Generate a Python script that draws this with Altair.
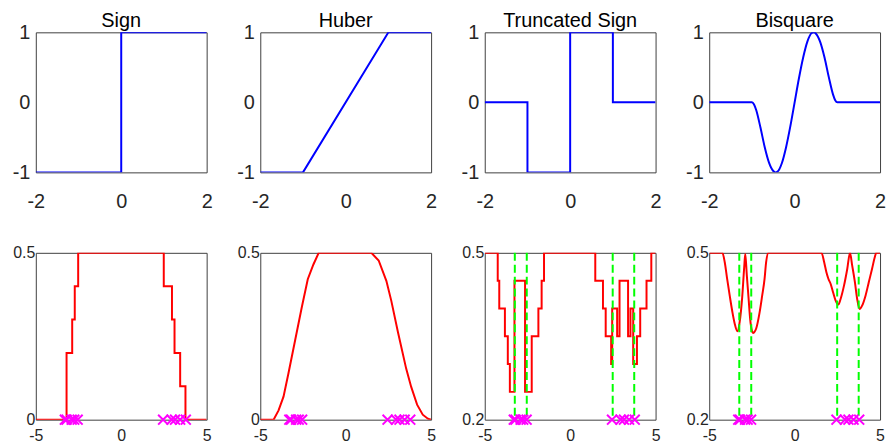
import altair as alt
import pandas as pd

# ---------------- top row: psi functions ----------------
sign_x = [-2, 0, 0, 2]
sign_y = [-1, -1, 1, 1]
huber_x = [-2, -1, 1, 2]
huber_y = [-1, -1, 1, 1]
tsign_x = [-2, -1, -1, 0, 0, 1, 1, 2]
tsign_y = [0, 0, -1, -1, 1, 1, 0, 0]
bisq_x = [-2, -1, -0.95, -0.9, -0.8, -0.7, -0.6, -0.5, -0.45, -0.4, -0.3, -0.2, -0.1,
          0, 0.1, 0.2, 0.3, 0.4, 0.45, 0.5, 0.6, 0.7, 0.8, 0.9, 0.95, 1, 2]
bisq_y = [0, 0, -0.03, -0.11, -0.36, -0.64, -0.86, -0.98, -1.0, -0.99, -0.87, -0.64, -0.34,
          0, 0.34, 0.64, 0.87, 0.99, 1.0, 0.98, 0.86, 0.64, 0.36, 0.11, 0.03, 0, 0]

# ---------------- bottom row: objective curves ----------------
sign_obj_x = [-5, -3.2, -2.87, -2.72, -2.52, 2.49, 2.97, 3.12, 3.45, 3.76, 5]
sign_obj_y = [0, 0.2, 0.3, 0.4, 0.5, 0.4, 0.3, 0.2, 0.1, 0, 0]

huber_obj_x = [-5, -4.22, -3.93, -3.64, -3.35, -2.96, -2.57, -2.22, -1.89, -1.58,
               1.50, 1.93, 2.38, 2.67, 3.06, 3.54, 3.83, 4.18, 4.51, 4.81, 5]
huber_obj_y = [0, 0, 0.028, 0.069, 0.139, 0.238, 0.337, 0.421, 0.465, 0.5,
               0.5, 0.477, 0.416, 0.356, 0.262, 0.153, 0.099, 0.045, 0.015, 0.003, 0]

tsign_obj_x = [-5, -4.24, -4.15, -3.82, -3.65, -3.53, -3.26, -2.64, -2.25, -1.86, -1.67, -1.53,
               1.47, 1.92, 2.08, 2.40, 2.46, 2.75, 2.89, 3.39, 3.53, 3.69, 3.91, 4.1, 4.47, 4.75, 5]
tsign_obj_y = [0.5, 0.45, 0.40, 0.35, 0.30, 0.25, 0.45, 0.25, 0.35, 0.40, 0.45, 0.5,
               0.45, 0.40, 0.35, 0.30, 0.40, 0.35, 0.45, 0.35, 0.40, 0.30, 0.35, 0.40, 0.45, 0.5, 0.5]

bisq_obj_x = [-5, -4.23, -4.09, -3.95, -3.80, -3.64, -3.51, -3.35, -3.22, -3.07, -2.95, -2.89,
              -2.80, -2.70, -2.60, -2.50, -2.44, -2.35, -2.25, -2.05, -1.90, -1.76, -1.67, -1.53,
              1.57, 1.73, 1.86, 1.98, 2.11, 2.25, 2.40, 2.56, 2.69, 2.89, 3.08, 3.24, 3.37, 3.53,
              3.66, 3.80, 3.95, 4.15, 4.34, 4.53, 4.69, 4.78, 5]
bisq_obj_y = [0.5, 0.5, 0.483, 0.453, 0.423, 0.393, 0.373, 0.359, 0.375, 0.42, 0.475, 0.498,
              0.46, 0.42, 0.38, 0.36, 0.356, 0.358, 0.364, 0.393, 0.423, 0.453, 0.483, 0.5,
              0.5, 0.483, 0.465, 0.453, 0.444, 0.429, 0.414, 0.407, 0.417, 0.441, 0.471, 0.5, 0.477,
              0.447, 0.417, 0.399, 0.405, 0.423, 0.447, 0.471, 0.492, 0.5, 0.5]

# data points (magenta crosses) and estimate locations (green dashed lines)
data_pts = [-3.3, -3.2, -2.9, -2.75, -2.55, 2.45, 2.95, 3.15, 3.45, 3.78]
estimates = [-3.24, -2.54, 2.49, 3.75]

titles = ["Sign", "Huber", "Truncated Sign", "Bisquare"]

FONT = "Liberation Sans"
LABEL_COLOR = "#262626"
CROSS = "M-1,-1L1,1M-1,1L1,-1"


def axis(values, size, pad):
    return alt.Axis(values=values, title=None, grid=False, ticks=False, domain=False,
                    labelFont=FONT, labelFontSize=size, labelColor=LABEL_COLOR,
                    labelPadding=pad, labelFlush=False, labelOverlap=False,
                    labelExpr="'' + datum.value")


def panel(xs, ys, interp, color, xdom, ydom, xticks, yticks, w, h, fsize, xpad, ypad,
          title=None, marks=False, lines=False):
    df = pd.DataFrame({"x": xs, "y": ys, "i": list(range(len(xs)))})
    xenc = alt.X("x:Q", scale=alt.Scale(domain=xdom, nice=False, zero=False),
                 axis=axis(xticks, fsize, xpad))
    yenc = alt.Y("y:Q", scale=alt.Scale(domain=ydom, nice=False, zero=False),
                 axis=axis(yticks, fsize, ypad))
    layers = [alt.Chart(df).mark_line(color=color, strokeWidth=2, interpolate=interp,
                                      clip=True).encode(x=xenc, y=yenc, order="i:Q")]
    if lines:
        ldf = pd.DataFrame({"x": estimates})
        layers.append(alt.Chart(ldf).mark_rule(color="#00FF00", strokeWidth=2,
                                               strokeDash=[8, 4]).encode(x="x:Q"))
    if marks:
        mdf = pd.DataFrame({"x": data_pts, "y": [ydom[0]] * len(data_pts)})
        layers.append(alt.Chart(mdf).mark_point(shape=CROSS, filled=False, color="#FF00FF",
                                                strokeWidth=2, size=100, opacity=1,
                                                clip=False).encode(x="x:Q", y="y:Q"))
    ch = alt.layer(*layers).properties(width=w, height=h)
    if title:
        ch = ch.properties(title=alt.TitleParams(title, font=FONT, fontSize=20,
                                                 fontWeight="normal", color="black",
                                                 frame="group", offset=-9))
    return ch


top_data = [(sign_x, sign_y, "linear"), (huber_x, huber_y, "linear"),
            (tsign_x, tsign_y, "linear"), (bisq_x, bisq_y, "monotone")]
bot_data = [(sign_obj_x, sign_obj_y, "step-after", [0, 0.5]),
            (huber_obj_x, huber_obj_y, "linear", [0, 0.5]),
            (tsign_obj_x, tsign_obj_y, "step-after", [0.2, 0.5]),
            (bisq_obj_x, bisq_obj_y, "monotone", [0.2, 0.5])]

top = [panel(x, y, it, "#0000FF", [-2, 2], [-1, 1], [-2, 0, 2], [-1, 0, 1], 172, 141,
             20, 19, 6, title=t)
       for (x, y, it), t in zip(top_data, titles)]
bot = [panel(x, y, it, "#FF0000", [-5, 5], yd, [-5, 0, 5], yd, 172, 168, 16, 8, 1,
             marks=True, lines=(k >= 2))
       for k, (x, y, it, yd) in enumerate(bot_data)]

chart = alt.concat(
    alt.hconcat(*top, spacing=54, bounds="flush"),
    alt.hconcat(*bot, spacing=54, bounds="flush"),
    columns=1,
    align="none",
    spacing=32,
).properties(
    padding={"left": 3, "top": 1, "right": 0, "bottom": 0},
    background="white",
).configure_view(stroke="#404040", strokeWidth=1)

chart.save("out.html", embed_options={"renderer": "svg", "actions": False})
